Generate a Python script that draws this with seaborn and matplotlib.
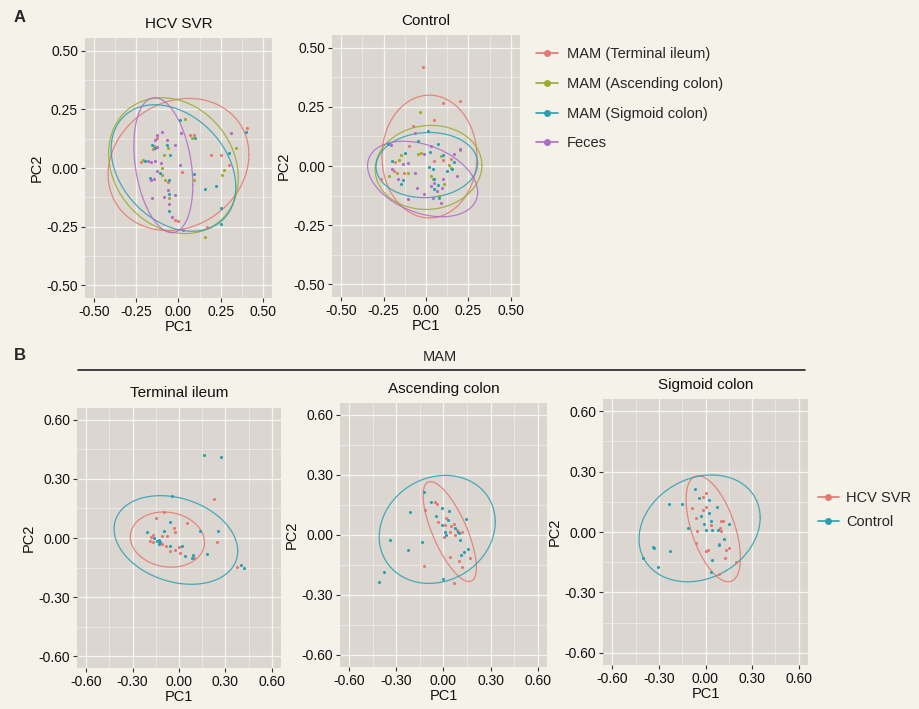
import numpy as np
import seaborn as sns
from matplotlib import pyplot as plt
from matplotlib.lines import Line2D
from matplotlib.ticker import MultipleLocator

# ---- data: panel A (PCA per group, four sample sites) ----
site_labels = ["MAM (Terminal ileum)", "MAM (Ascending colon)", "MAM (Sigmoid colon)", "Feces"]
site_colors = ["#e4776f", "#9aab2e", "#2a9fb3", "#b06bc8"]

hcv_ti_x = [0.405, 0.07, 0.09, 0.19, 0.25, -0.22, 0.02, 0.30, -0.02, 0.00, 0.17, -0.13, -0.15, -0.06]
hcv_ti_y = [0.17, 0.14, 0.14, 0.056, 0.056, 0.025, -0.017, 0.014, -0.22, -0.226, -0.254, 0.13, 0.08, -0.06]
hcv_ac_x = [0.036, 0.08, -0.145, -0.064, 0.34, -0.084, -0.21, -0.10, 0.27, 0.26, -0.10, -0.08, 0.092, -0.054, 0.16]
hcv_ac_y = [0.21, 0.127, 0.092, 0.085, 0.085, 0.056, 0.035, 0.0, -0.007, -0.028, -0.028, -0.05, -0.05, -0.13, -0.294]
hcv_sc_x = [0.01, 0.40, 0.096, -0.16, -0.137, -0.066, 0.30, -0.05, -0.20, 0.09, -0.11, -0.17, -0.056, 0.157,
            0.225, -0.056, -0.056, 0.25, 0.255]
hcv_sc_y = [0.205, 0.155, 0.127, 0.10, 0.085, 0.10, 0.064, 0.056, 0.028, -0.024, -0.021, -0.042, -0.05, -0.088,
            -0.078, -0.113, -0.184, -0.172, -0.24]
hcv_fe_x = [0.31, -0.13, -0.096, 0.012, -0.14, -0.07, -0.125, -0.02, -0.18, -0.165, -0.137, -0.104, 0.01, -0.125,
            -0.165, -0.145, -0.06, -0.02, -0.084, -0.157, -0.056, -0.04, 0.026]
hcv_fe_y = [0.15, 0.14, 0.155, 0.15, 0.12, 0.12, 0.088, 0.10, 0.03, 0.025, 0.028, 0.02, 0.014, -0.014,
            -0.05, -0.045, -0.092, -0.116, -0.124, -0.127, -0.155, -0.21, -0.265]

ctl_ti_x = [-0.02, 0.103, 0.20, 0.048, -0.103, 0.103, -0.184, 0.145, 0.048, -0.188, -0.13, -0.265, -0.078]
ctl_ti_y = [0.42, 0.268, 0.275, 0.195, 0.085, 0.024, 0.017, 0.028, 0.021, -0.023, -0.031, -0.056, 0.17]
ctl_ac_x = [-0.033, -0.048, -0.029, 0.087, 0.203, -0.145, -0.161, 0.136, 0.145, -0.169, -0.219, -0.107, 0.029,
            0.039, 0.107, 0.078]
ctl_ac_y = [0.23, 0.049, 0.054, 0.042, 0.068, 0.045, 0.024, 0.003, -0.007, -0.031, -0.042, -0.031, -0.042,
            -0.056, -0.075, -0.127]
ctl_sc_x = [0.014, -0.223, -0.045, 0.068, 0.025, 0.103, -0.126, -0.203, 0.165, 0.155, 0.126, 0.019, 0.039,
            0.048, -0.136, 0.068, -0.145, 0.048, 0.078]
ctl_sc_y = [0.148, 0.092, 0.106, 0.092, 0.059, 0.048, 0.056, 0.021, 0.017, -0.014, -0.021, -0.003, -0.011,
            -0.054, -0.059, -0.082, -0.078, -0.099, -0.134]
ctl_fe_x = [-0.062, -0.207, 0.029, -0.01, 0.165, -0.136, -0.107, -0.203, -0.064, 0.103, -0.165, 0.048, 0.184,
            -0.052, 0.029, 0.097, 0.064, -0.01, 0.039, -0.107, 0.087, 0.20]
ctl_fe_y = [0.141, 0.089, 0.085, 0.049, 0.049, 0.007, 0.014, -0.014, -0.031, -0.056, -0.054, -0.071, -0.042,
            -0.092, -0.085, -0.092, -0.106, -0.12, -0.134, -0.141, -0.158, 0.073]

# ellipses: centre x, centre y, half-width, half-height, correlation
hcv_ellipses = [(0.0, 0.015, 0.418, 0.282, 0.15),
                (-0.03, 0.01, 0.385, 0.29, -0.18),
                (-0.03, 0.0, 0.37, 0.27, -0.3),
                (-0.09, 0.012, 0.175, 0.288, -0.29)]
ctl_ellipses = [(0.02, 0.04, 0.28, 0.26, 0.0),
                (0.015, -0.006, 0.315, 0.178, 0.05),
                (0.005, 0.004, 0.30, 0.138, 0.05),
                (-0.02, -0.055, 0.325, 0.16, -0.35)]

# ---- data: panel B (HCV SVR vs Control per MAM site) ----
group_labels = ["HCV SVR", "Control"]
group_colors = ["#e4776f", "#2a9fb3"]

ti_hcv_x = [0.229, -0.096, -0.149, 0.049, -0.033, -0.027, -0.167, -0.078, -0.107, -0.182, -0.189, -0.167,
            -0.111, -0.084, -0.056, -0.027, 0.0, 0.004, 0.10, 0.244, 0.378]
ti_hcv_y = [0.20, 0.13, 0.103, 0.075, 0.053, 0.028, 0.017, 0.008, 0.008, 0.003, -0.013, -0.022, -0.03, -0.042,
            -0.067, -0.063, -0.047, -0.075, -0.103, -0.02, -0.145]
ti_ctl_x = [0.16, 0.27, -0.044, -0.06, 0.133, 0.25, -0.21, -0.10, -0.16, -0.13, -0.12, -0.13, -0.144, -0.06,
            0.018, 0.04, 0.089, 0.084, 0.182, 0.404, 0.418]
ti_ctl_y = [0.42, 0.41, 0.213, 0.083, 0.038, 0.037, 0.032, 0.037, 0.0, -0.01, -0.02, -0.03, -0.017, -0.042,
            -0.043, -0.092, -0.087, -0.103, -0.083, -0.138, -0.153]

ac_hcv_x = [-0.052, -0.042, -0.121, 0.018, -0.035, 0.008, 0.046, 0.067, 0.089, 0.04, 0.119, 0.076, 0.003,
            0.04, 0.168, -0.125, 0.121, 0.067, 0.097]
ac_hcv_y = [0.167, 0.156, 0.126, 0.084, 0.064, 0.05, 0.047, 0.056, 0.026, 0.017, 0.017, 0.0, -0.008,
            -0.108, -0.113, -0.153, -0.16, -0.24, -0.13]
ac_ctl_x = [-0.125, -0.078, -0.213, -0.007, 0.037, -0.05, 0.144, 0.029, -0.01, 0.072, 0.093, 0.10, 0.012,
            0.018, -0.343, -0.136, 0.104, -0.229, 0.157, 0.129, 0.11, -0.38, -0.41, -0.003]
ac_ctl_y = [0.217, 0.164, 0.116, 0.134, 0.122, 0.095, 0.08, 0.076, 0.05, 0.034, 0.014, 0.01, 0.017,
            0.0, -0.026, -0.033, -0.024, -0.074, -0.07, -0.083, -0.10, -0.186, -0.235, -0.22]

sc_hcv_x = [0.004, -0.018, -0.089, -0.018, 0.004, -0.062, 0.10, 0.111, 0.093, 0.10, -0.056, 0.033, -0.06,
            0.0, 0.018, 0.084, 0.133, 0.151, 0.127, 0.196, 0.084]
sc_hcv_y = [0.195, 0.173, 0.12, 0.107, 0.123, 0.07, 0.057, 0.053, 0.02, 0.007, 0.007, 0.037, -0.055,
            -0.092, -0.088, -0.06, -0.088, -0.08, -0.13, -0.15, -0.21]
sc_ctl_x = [-0.067, -0.044, -0.233, -0.149, 0.022, 0.076, 0.022, -0.027, 0.033, -0.011, 0.04, 0.151, 0.0,
            -0.111, 0.078, 0.122, 0.084, -0.338, -0.333, -0.229, 0.044, -0.40, -0.304, 0.033]
sc_ctl_y = [0.212, 0.167, 0.14, 0.14, 0.158, 0.123, 0.095, 0.078, 0.057, 0.04, 0.012, 0.04, 0.012,
            0.02, 0.008, -0.033, -0.063, -0.072, -0.08, -0.093, -0.138, -0.13, -0.175, -0.197]

ti_ellipses = [(-0.075, -0.008, 0.24, 0.14, -0.1),
               (-0.02, -0.01, 0.40, 0.225, -0.25)]
ac_ellipses = [(0.04, 0.017, 0.17, 0.25, -0.72),
               (-0.04, 0.028, 0.37, 0.27, 0.14)]
sc_ellipses = [(0.05, 0.016, 0.175, 0.263, -0.55),
               (-0.038, 0.018, 0.39, 0.265, 0.2)]

# ---- style ----
paper = "#f5f2ea"
panel = "#dbd7d0"
sns.set_theme(style="darkgrid", rc={"figure.facecolor": paper, "axes.facecolor": panel,
                                    "grid.color": "white"})
plt.rcParams['font.family'] = ['Liberation Sans', 'DejaVu Sans']

W, H = 920, 709
fig = plt.figure(figsize=(W / 100, H / 100), dpi=100)


def add_panel(left, top, right, bottom):
    return fig.add_axes([left / W, 1 - bottom / H, (right - left) / W, (bottom - top) / H])


def draw_ellipse(ax, e, color):
    cx, cy, sx, sy, r = e
    t = np.linspace(0, 2 * np.pi, 200)
    x = cx + sx * np.cos(t)
    y = cy + sy * (r * np.cos(t) + np.sqrt(1 - r ** 2) * np.sin(t))
    ax.plot(x, y, color=color, lw=0.9, alpha=0.85)


def style_panel(ax, title, lim, major, title_pad=7):
    ax.set_xlim(-lim, lim)
    ax.set_ylim(-lim, lim)
    ax.xaxis.set_major_locator(MultipleLocator(major))
    ax.yaxis.set_major_locator(MultipleLocator(major))
    ax.xaxis.set_minor_locator(MultipleLocator(major / 2))
    ax.yaxis.set_minor_locator(MultipleLocator(major / 2))
    ax.grid(which="major", color="white", lw=0.9, alpha=0.75)
    ax.grid(which="minor", color="white", lw=0.5, alpha=0.55)
    ax.xaxis.set_major_formatter(lambda v, p: f"{v:.2f}")
    ax.yaxis.set_major_formatter(lambda v, p: f"{v:.2f}")
    ax.tick_params(which="major", bottom=True, left=True, length=3, width=0.8, color="#333333",
                   labelsize=10, labelcolor="#111111", pad=2)
    ax.tick_params(which="minor", bottom=False, left=False)
    for s in ax.spines.values():
        s.set_visible(False)
    ax.set_xlabel("PC1", fontsize=10.5, labelpad=1, color="#111111")
    ax.set_ylabel("PC2", fontsize=10.5, labelpad=2, color="#111111")
    ax.set_title(title, fontsize=11, pad=title_pad, color="#111111")


def draw_groups(ax, xs, ys, ellipses, colors):
    for x, y, e, c in zip(xs, ys, ellipses, colors):
        draw_ellipse(ax, e, c)
        sns.scatterplot(x=x, y=y, color=c, s=5, linewidth=0, ax=ax, legend=False, zorder=3)


# panel A
ax1 = add_panel(85, 38, 272, 298)
draw_groups(ax1, [hcv_ti_x, hcv_ac_x, hcv_sc_x, hcv_fe_x], [hcv_ti_y, hcv_ac_y, hcv_sc_y, hcv_fe_y],
            hcv_ellipses, site_colors)
style_panel(ax1, "HCV SVR", 0.555, 0.25)

ax2 = add_panel(332, 35, 520, 297)
draw_groups(ax2, [ctl_ti_x, ctl_ac_x, ctl_sc_x, ctl_fe_x], [ctl_ti_y, ctl_ac_y, ctl_sc_y, ctl_fe_y],
            ctl_ellipses, site_colors)
style_panel(ax2, "Control", 0.555, 0.25)

# panel B
bx1 = add_panel(77, 408, 281, 668)
draw_groups(bx1, [ti_hcv_x, ti_ctl_x], [ti_hcv_y, ti_ctl_y], ti_ellipses, group_colors)
style_panel(bx1, "Terminal ileum", 0.66, 0.30, title_pad=8)

bx2 = add_panel(340, 403, 547, 667)
draw_groups(bx2, [ac_hcv_x, ac_ctl_x], [ac_hcv_y, ac_ctl_y], ac_ellipses, group_colors)
style_panel(bx2, "Ascending colon", 0.66, 0.30, title_pad=7)

bx3 = add_panel(603, 399, 808, 665)
draw_groups(bx3, [sc_hcv_x, sc_ctl_x], [sc_hcv_y, sc_ctl_y], sc_ellipses, group_colors)
style_panel(bx3, "Sigmoid colon", 0.66, 0.30, title_pad=7)


# legends
def key(c):
    return Line2D([], [], color=c, lw=1.2, marker="o", markersize=5, markeredgewidth=0)


fig.legend([key(c) for c in site_colors], site_labels, loc="upper left",
           bbox_to_anchor=(523 / W, 1 - 34 / H), frameon=False, fontsize=10.5,
           handlelength=1.5, handletextpad=0.6, labelspacing=1.08)
fig.legend([key(c) for c in group_colors], group_labels, loc="upper left",
           bbox_to_anchor=(805 / W, 1 - 478 / H), frameon=False, fontsize=10.5,
           handlelength=1.4, handletextpad=0.5, labelspacing=0.65)

# panel letters and MAM header
fig.text(14 / W, 1 - 18 / H, "A", fontsize=12, fontweight="bold", va="center")
fig.text(14 / W, 1 - 355 / H, "B", fontsize=12, fontweight="bold", va="center")
fig.text(440 / W, 1 - 357 / H, "MAM", fontsize=10.5, ha="center", va="center")
fig.add_artist(Line2D([78 / W, 805 / W], [1 - 370 / H, 1 - 370 / H], color="#222222", lw=1.2))

fig.savefig("out.png", dpi=100, facecolor=paper)
